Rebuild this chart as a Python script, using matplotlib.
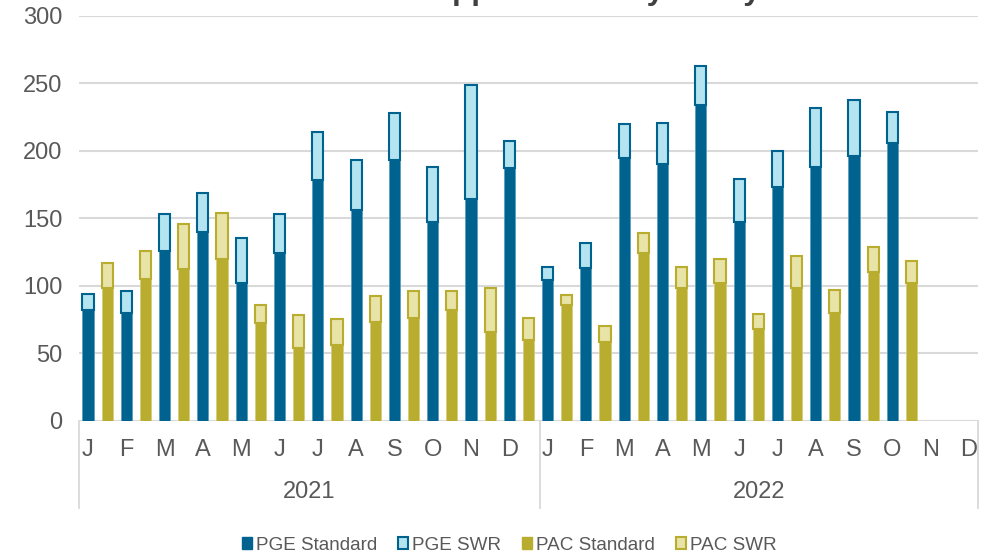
import numpy as np
import matplotlib
matplotlib.use("Agg")
import matplotlib.pyplot as plt
from matplotlib.patches import Patch
import matplotlib.transforms as mtransforms

plt.rcParams['font.family'] = ['Liberation Sans', 'DejaVu Sans']

# ---- data ----
years = ["2021", "2022"]
month_labels = ["J", "F", "M", "A", "M", "J", "J", "A", "S", "O", "N", "D"] * 2
series_names = ["PGE Standard", "PGE SWR", "PAC Standard", "PAC SWR"]

pge_standard = [82, 80, 126, 140, 102, 124, 178, 156, 193, 147, 164, 187,
                104, 113, 195, 190, 234, 147, 173, 188, 196, 206, None, None]
pge_swr = [12, 16, 27, 29, 33, 29, 36, 37, 35, 41, 85, 20,
           10, 19, 25, 31, 29, 32, 27, 44, 42, 23, None, None]
pac_standard = [98, 105, 112, 120, 72, 54, 56, 73, 76, 82, 66, 60,
                86, 58, 124, 98, 102, 68, 98, 80, 110, 102, None, None]
pac_swr = [19, 21, 34, 34, 14, 24, 19, 19, 20, 14, 32, 16,
           7, 12, 15, 16, 18, 11, 24, 17, 19, 16, None, None]
title_text = "Interconnection Applications by Utility"

# ---- styling ----
C_PGE = "#00628F"
C_PGE_LIGHT = "#B3E4F0"
C_PAC = "#B9AD2F"
C_PAC_LIGHT = "#E8E3A7"
TXT = "#595959"
GRID = "#D9D9D9"

def arr(v):
    return np.array([np.nan if x is None else x for x in v], dtype=float)

pge_s, pge_w, pac_s, pac_w = map(arr, (pge_standard, pge_swr, pac_standard, pac_swr))
n = len(month_labels)
x = np.arange(n)
mask = ~np.isnan(pge_s)

fig = plt.figure(figsize=(9.85, 5.58), dpi=100)
W, H = 985, 558
ax_left, ax_right, ax_top, ax_bot = 79, 978, 16, 420.5
ax = fig.add_axes([ax_left / W, 1 - ax_bot / H, (ax_right - ax_left) / W, (ax_bot - ax_top) / H])

bw = 0.29
off_pac = 0.5
ax.bar(x[mask], pge_s[mask], width=bw, color=C_PGE, edgecolor="#5C9FC0", linewidth=0.6, zorder=3)
ax.bar(x[mask], pge_w[mask], bottom=pge_s[mask], width=bw, color=C_PGE_LIGHT,
       edgecolor=C_PGE, linewidth=1.5, zorder=3)
ax.bar(x[mask] + off_pac, pac_s[mask], width=bw, color=C_PAC, edgecolor="#D6CD7A", linewidth=0.6, zorder=3)
ax.bar(x[mask] + off_pac, pac_w[mask], bottom=pac_s[mask], width=bw, color=C_PAC_LIGHT,
       edgecolor=C_PAC, linewidth=1.5, zorder=3)

slot = 38.3
x0 = (ax_left - 88) / slot
x1 = (ax_right - 88) / slot
ax.set_xlim(x0, x1)
ax.set_ylim(0, 300)
ax.set_yticks(np.arange(0, 301, 50))
ax.yaxis.grid(True, color=GRID, linewidth=1.5, zorder=0)
ax.set_axisbelow(True)
for s in ax.spines.values():
    s.set_visible(False)
ax.tick_params(axis='y', length=0, pad=12, labelsize=17, labelcolor=TXT)
ax.set_xticks([])

trans = mtransforms.blended_transform_factory(ax.transData, ax.transAxes)
ah = ax_bot - ax_top
def fy(px):
    return (ax_bot - px) / ah

for i, lab in enumerate(month_labels):
    ax.text(i, fy(450), lab, transform=trans, ha='center', va='center',
            fontsize=17, color=TXT)

sep = (540 - 88) / slot
for xs in (x0, sep, x1):
    ax.plot([xs, xs], [0, fy(508)], transform=trans, color=GRID, linewidth=1.3, clip_on=False)
for (a, b), yr in zip(((x0, sep), (sep, x1)), years):
    ax.text((a + b) / 2, fy(492), yr, transform=trans, ha='center', va='center',
            fontsize=17, color=TXT)

# title (cut at top in reference)
fig.text(185 / W, 1 + 0.5 / H, title_text, ha='left', va='baseline',
         fontsize=22.7, fontweight='bold', color="#404040")

handles = [
    Patch(facecolor=C_PGE, edgecolor=C_PGE, linewidth=1.0),
    Patch(facecolor=C_PGE_LIGHT, edgecolor=C_PGE, linewidth=1.5),
    Patch(facecolor=C_PAC, edgecolor=C_PAC, linewidth=1.0),
    Patch(facecolor=C_PAC_LIGHT, edgecolor=C_PAC, linewidth=1.5),
]
leg = fig.legend(handles, series_names, loc='center', bbox_to_anchor=(509 / W, 1 - 545 / H),
                 ncol=4, frameon=False, fontsize=13.6, handlelength=0.55, handleheight=0.55,
                 handletextpad=0.2, columnspacing=1.1, borderpad=0)
for t in leg.get_texts():
    t.set_color(TXT)

fig.savefig("out.png", dpi=100)
